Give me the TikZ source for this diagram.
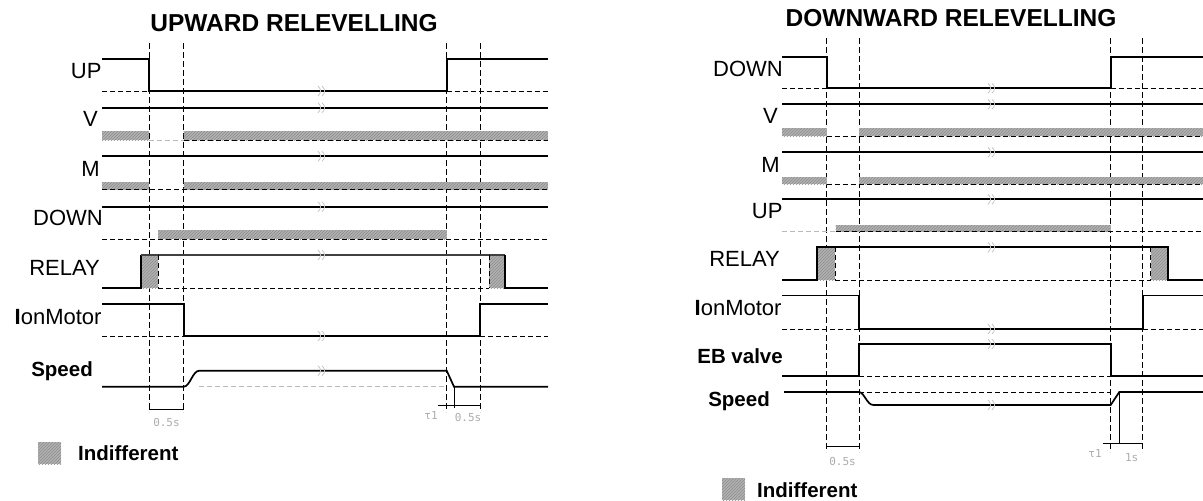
\documentclass[tikz,border=0pt]{standalone}
\usepackage{fontspec}
\setmainfont{Liberation Sans}
\newfontfamily\monof{DejaVu Sans Mono}
\usetikzlibrary{patterns}
\tikzset{
  sig/.style={line width=1.7pt, line join=miter},
  thinsig/.style={line width=1.1pt, black!75},
  lvl/.style={line width=0.8pt, dash pattern=on 5pt off 3pt},
  lvlg/.style={line width=0.8pt, dash pattern=on 5pt off 3pt, gray!55},
  vline/.style={line width=0.8pt, dash pattern=on 6pt off 3pt},
  band/.style={fill=gray!60, postaction={pattern=north east lines, pattern color=gray!90}},
  lbl/.style={font=\fontsize{22}{24}\selectfont, anchor=base east, inner sep=0pt},
  blbl/.style={font=\fontsize{20.5}{24}\selectfont\bfseries, anchor=base east, inner sep=0pt},
  ttl/.style={font=\fontsize{24.5}{28}\selectfont\bfseries, inner sep=0pt},
  small/.style={font=\fontsize{11}{13}\selectfont\monof, text=gray!65, inner sep=0pt},
  dim/.style={line width=0.7pt},
  leg/.style={font=\fontsize{20.5}{24}\selectfont\bfseries, anchor=west, inner sep=0pt}
}
\newcommand\brkmark[2]{%
  \draw[gray!50, line width=0.7pt] (#1-2,#2-5) .. controls (#1+1.5,#2-1.5) and (#1+1.5,#2+1.5) .. (#1-2,#2+5);
  \draw[gray!50, line width=0.7pt] (#1+2,#2-5) .. controls (#1+5.5,#2-1.5) and (#1+5.5,#2+1.5) .. (#1+2,#2+5);}
\begin{document}
\begin{tikzpicture}[x=1pt,y=-1pt]
\useasboundingbox (0,0) rectangle (1203,501);
% ================= LEFT: UPWARD RELEVELLING =================
\node[ttl] (tl) at (294,23.5) {UPWARD RELEVELLING};
\foreach \xx/\nm in {149/a,183.7/b,446.7/c,480.3/d}{
  \coordinate (lt\nm) at (\xx,43); \coordinate (lb\nm) at (\xx,412);
  \draw[vline] (lt\nm) -- (lb\nm);}
\node[lbl] (lup) at (101.7,78) {UP};
\node[lbl] (lv) at (98,126.7) {V};
\node[lbl] (lm) at (100,176.7) {M};
\node[lbl] (ldown) at (103,225) {DOWN};
\node[lbl] (lrelay) at (100,275) {RELAY};
\node[lbl] (lion) at (101.7,324) {{\bfseries I}onMotor};
\node[blbl] (lspeed) at (93,376) {Speed};
% bands
\path[band] (102,131) rectangle (149,140);
\path[band] (183.7,131) rectangle (548,140);
\path[band] (102,182) rectangle (149,189.5);
\path[band] (183.7,182) rectangle (548,189.5);
\path[band] (158.3,230) rectangle (446.7,239.3);
\path[band] (140.7,255) rectangle (158.3,288.3);
\path[band] (489,255) rectangle (505,288.3);
% UP
\draw[sig] (102,59) -- (149,59) -- (149,91) -- (446.7,91) -- (446.7,59) -- (548,59);
\draw[lvl] (102,91) -- (149,91);
\draw[lvl] (446.7,91) -- (548,91);
% V
\draw[sig] (102,107.7) -- (548,107.7);
\draw[lvlg] (149,140) -- (183.7,140);
\draw[lvl] (183.7,140) -- (548,140);
% M
\draw[sig] (102,156.3) -- (548,156.3);
\draw[lvl] (102,189.5) -- (548,189.5);
% DOWN
\draw[sig] (102,206.7) -- (548,206.7);
\draw[lvl] (102,239.3) -- (548,239.3);
% RELAY
\draw[sig] (102,288.3) -- (140.7,288.3) -- (140.7,255);
\draw[thinsig] (140.7,255) -- (505,255);
\draw[sig] (505,255) -- (505,288.3) -- (548,288.3);
\draw[lvl] (158.3,255) -- (158.3,288.3);
\draw[lvl] (489,255) -- (489,288.3);
\draw[lvl] (158.3,288.3) -- (489,288.3);
% IonMotor
\draw[sig] (102,304.3) -- (183.7,304.3) -- (183.7,336) -- (480.3,336) -- (480.3,304.3) -- (548,304.3);
\draw[lvl] (102,336) -- (183.7,336);
\draw[lvl] (480.3,336) -- (548,336);
% Speed
\draw[lvlg] (199.3,386.7) -- (446.7,386.7);
\draw[sig] (102,386.7) -- (183.7,386.7) .. controls (190,386.7) and (192.5,370.7) .. (199.3,370.7) -- (446.7,370.7) -- (454,386.7) -- (548,386.7);
% dims
\draw[dim] (149,409) -- (183.7,409);
\node[small] (l05a) at (166.5,422) {0.5s};
\draw[dim] (454,386.7) -- (454,408);
\draw[dim] (437.7,405) -- (480.3,405);
\node[small] (ltau) at (431,415) {τ1};
\node[small] (l05b) at (468,417) {0.5s};
\foreach \yy in {91,107.7,156.3,206.7,255,336,370.7}{\brkmark{320}{\yy}}
% legend
\path[band] (38,442) rectangle (61,464);
\node[leg] (lind) at (78,453) {Indifferent};
% ================= RIGHT: DOWNWARD RELEVELLING =================
\node[ttl] (tr) at (951,18.5) {DOWNWARD RELEVELLING};
\foreach \xx/\nm in {826.7/a,859/b,1110.7/c,1142.7/d}{
  \coordinate (rt\nm) at (\xx,38); \coordinate (rb\nm) at (\xx,452);
  \draw[vline] (rt\nm) -- (rb\nm);}
\node[lbl] (rdown) at (783,76) {DOWN};
\node[lbl] (rv) at (778,123) {V};
\node[lbl] (rm) at (780,172) {M};
\node[lbl] (rup) at (782.7,218) {UP};
\node[lbl] (rrelay) at (780,266.7) {RELAY};
\node[lbl] (rion) at (781.7,315) {{\bfseries I}onMotor};
\node[blbl] (reb) at (783,363) {EB valve};
\node[blbl] (rspeed) at (770,406.5) {Speed};
% bands
\path[band] (782,128) rectangle (826.7,136);
\path[band] (859,128) rectangle (1203,136);
\path[band] (782,177) rectangle (826.7,184);
\path[band] (859,177) rectangle (1203,184);
\path[band] (835.7,225) rectangle (1110.7,231.7);
\path[band] (817.3,247.3) rectangle (835,280);
\path[band] (1150.7,247.3) rectangle (1168.3,280);
% DOWN
\draw[sig] (782,56.7) -- (826.7,56.7) -- (826.7,88.3) -- (1110.7,88.3) -- (1110.7,56.7) -- (1203,56.7);
\draw[lvl] (782,88.3) -- (826.7,88.3);
\draw[lvl] (1110.7,88.3) -- (1203,88.3);
% V
\draw[sig] (782,104.3) -- (1203,104.3);
\draw[lvl] (826.7,136) -- (1203,136);
% M
\draw[sig] (782,152.3) -- (1203,152.3);
\draw[lvl] (826.7,184) -- (1203,184);
% UP
\draw[sig] (782,199.3) -- (1203,199.3);
\draw[lvlg] (782,231.7) -- (835.7,231.7);
\draw[lvl] (835.7,231.7) -- (1203,231.7);
% RELAY
\draw[sig] (782,280) -- (817.3,280) -- (817.3,247.3) -- (1168.3,247.3) -- (1168.3,280) -- (1203,280);
\draw[lvl] (835,247.3) -- (835,280);
\draw[lvl] (1150.7,247.3) -- (1150.7,280);
\draw[lvl] (835,280) -- (1150.7,280);
% IonMotor
\draw[sig] (782,295.5) -- (859,295.5) -- (859,329) -- (1142.7,329) -- (1142.7,295.5) -- (1203,295.5);
\draw[lvl] (782,329) -- (859,329);
\draw[lvl] (1142.7,329) -- (1203,329);
% EB valve
\draw[sig] (782,376) -- (859,376) -- (859,344) -- (1110.7,344) -- (1110.7,376) -- (1203,376);
\draw[lvl] (859,376) -- (1110.7,376);
% Speed
\draw[lvl] (859,392) -- (1110.7,392);
\draw[sig] (784,392) -- (859,392) .. controls (864,392) and (867,405) .. (873.3,405) -- (1110.7,405) -- (1119.3,392) -- (1203,392);
% dims
\draw[dim] (826.7,446.7) -- (859,446.7);
\node[small] (r05) at (842.5,461.7) {0.5s};
\draw[dim] (1119.3,392) -- (1119.3,443.3);
\draw[dim] (1102.7,443.3) -- (1142.7,443.3);
\node[small] (rtau) at (1095,453) {τ1};
\node[small] (r1s) at (1131.7,458) {1s};
\foreach \yy in {88.3,104.3,152.3,199.3,247.3,329,344,405}{\brkmark{990}{\yy}}
% legend
\path[band] (722,478) rectangle (745,500);
\node[leg] (rind) at (757,490) {Indifferent};
\end{tikzpicture}
\end{document}
